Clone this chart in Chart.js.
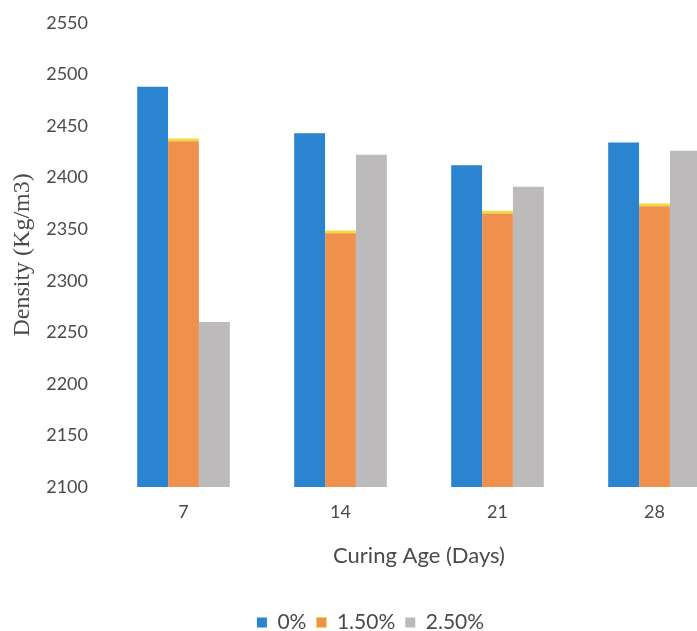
<!DOCTYPE html>
<html lang="en">

<head>
    <meta charset="UTF-8">
    <title>Density vs Curing Age</title>
    <script src="https://cdn.jsdelivr.net/npm/chart.js"></script>
    <style>
        body {
            margin: 0;
            background-color: #ffffff;
            overflow: hidden;
        }

        .grafico {
            width: 697px;
            height: 631px;
            overflow: hidden;
        }

        #myChart {
            display: block;
            margin-top: -5px;
        }
    </style>
</head>

<body>
    <div class="grafico">
        <canvas id="myChart" width="733" height="636"></canvas>
    </div>

    <script>
        // data
        const edades = ['7', '14', '21', '28'];
        const serie0 = [2488, 2443, 2412, 2434];
        const serie150 = [2438, 2349, 2368, 2375];
        const serie250 = [2260, 2422, 2391, 2426];
        const yTicks = [2100, 2150, 2200, 2250, 2300, 2350, 2400, 2450, 2500, 2550];

        const textoGris = '#4a4a4a';

        var ctx = document.getElementById('myChart');

        var myChart = new Chart(ctx, {
            type: 'bar',
            data: {
                labels: edades,
                datasets: [{
                    label: '0%',
                    data: serie0,
                    backgroundColor: '#2b84d0',
                    borderWidth: 0
                }, {
                    label: '1.50%',
                    data: serie150,
                    backgroundColor: '#ef904c',
                    borderColor: '#f2dc3c',
                    borderSkipped: 'bottom',
                    borderWidth: { top: 3, left: 0, right: 0, bottom: 0 }
                }, {
                    label: '2.50%',
                    data: serie250,
                    backgroundColor: '#bcbaba',
                    borderWidth: 0
                }]
            },
            options: {
                responsive: false,
                animation: false,
                layout: {
                    padding: { top: 0, left: 8, right: 0, bottom: -12 }
                },
                datasets: {
                    bar: {
                        categoryPercentage: 0.59,
                        barPercentage: 1.0
                    }
                },
                plugins: {
                    legend: {
                        position: 'bottom',
                        labels: {
                            boxWidth: 10,
                            boxHeight: 10,
                            padding: 10,
                            color: textoGris,
                            font: { family: 'Lato', size: 21 }
                        }
                    },
                    tooltip: { enabled: false }
                },
                scales: {
                    x: {
                        grid: { display: false, drawTicks: false },
                        border: { display: false },
                        ticks: {
                            color: textoGris,
                            padding: 14,
                            font: { family: 'Lato', size: 18 }
                        },
                        title: {
                            display: true,
                            text: 'Curing Age (Days)',
                            color: textoGris,
                            padding: { top: 6, bottom: 33 },
                            font: { family: 'Lato', size: 22 }
                        }
                    },
                    y: {
                        min: 2100,
                        max: 2550,
                        grid: { display: false, drawTicks: false },
                        border: { display: false },
                        afterBuildTicks: (scale) => {
                            scale.ticks = yTicks.map(v => ({ value: v }));
                        },
                        afterFit: (scale) => {
                            scale.width = 97;
                        },
                        ticks: {
                            color: textoGris,
                            padding: 17,
                            callback: (v) => String(v),
                            font: { family: 'Lato', size: 18 }
                        },
                        title: {
                            display: true,
                            text: 'Density (Kg/m3)',
                            color: textoGris,
                            padding: { top: 0, bottom: 4 },
                            font: { family: 'Liberation Serif', size: 24 }
                        }
                    }
                }
            }
        })
    </script>
</body>

</html>
